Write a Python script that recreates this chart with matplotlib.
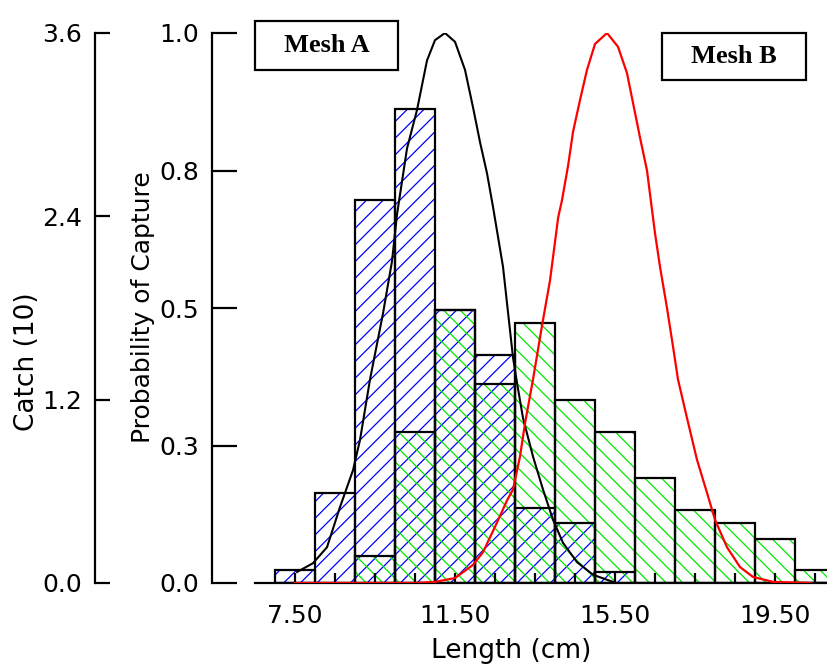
import matplotlib
matplotlib.use("Agg")
import matplotlib.pyplot as plt
from matplotlib.patches import Rectangle
import numpy as np

# length classes (cm), one bar per class
lengths = [7.5, 8.5, 9.5, 10.5, 11.5, 12.5, 13.5, 14.5, 15.5, 16.5, 17.5, 18.5, 19.5, 20.5]
# catch in units of 10 fish
catch_a = [0.085, 0.59, 2.51, 3.10, 1.79, 1.49, 0.49, 0.39, 0.07, 0, 0, 0, 0, 0]
catch_b = [0, 0, 0.18, 0.99, 1.79, 1.30, 1.70, 1.20, 0.99, 0.69, 0.48, 0.39, 0.29, 0.085]

# selectivity curves
sel_a_x = [7.55, 7.95, 8.3, 8.625, 8.95, 9.125, 9.375, 9.7, 9.925, 10.05, 10.3, 10.55, 10.8,
           11.0, 11.25, 11.5, 11.75, 11.95, 12.13, 12.3, 12.45, 12.7, 12.95, 13.05,
           13.2, 13.45, 13.7, 13.95, 14.2, 14.55, 14.95, 15.45]
sel_a_y = [0.02, 0.036, 0.065, 0.138, 0.205, 0.26, 0.37, 0.49, 0.585, 0.67, 0.79, 0.86, 0.95,
           0.987, 1.0, 0.984, 0.933, 0.865, 0.80, 0.745, 0.684, 0.575, 0.41, 0.364,
           0.30, 0.23, 0.17, 0.115, 0.073, 0.038, 0.015, 0.002]
sel_b_x = [7.5, 10.5, 11.0, 11.5, 11.95, 12.2, 12.55, 12.8, 12.95, 13.125, 13.25, 13.45,
           13.68, 13.875, 14.08, 14.175, 14.33, 14.45, 14.625, 14.8, 15.0, 15.3, 15.575,
           15.8, 15.95, 16.125, 16.3, 16.5, 16.625, 16.8, 16.95, 17.075, 17.3, 17.55,
           17.8, 18.0, 18.3, 18.625, 18.95, 19.45, 20.4]
sel_b_y = [0, 0, 0.002, 0.009, 0.033, 0.056, 0.11, 0.15, 0.17, 0.23, 0.29, 0.37,
           0.47, 0.55, 0.665, 0.696, 0.76, 0.82, 0.878, 0.933, 0.98, 1.0, 0.975,
           0.927, 0.873, 0.81, 0.75, 0.636, 0.575, 0.50, 0.43, 0.37, 0.30, 0.224,
           0.164, 0.115, 0.065, 0.029, 0.011, 0.002, 0]

catch_ticks = [0.0, 1.2, 2.4, 3.6]
prob_ticks = [0.0, 0.25, 0.5, 0.75, 1.0]
x_labels = {7.5: "7.50", 11.5: "11.50", 15.5: "15.50", 19.5: "19.50"}

plt.rcParams['font.family'] = 'DejaVu Sans'
plt.rcParams['hatch.linewidth'] = 0.9

fig = plt.figure(figsize=(8.27, 6.69), dpi=100)
ax = fig.add_axes([255 / 827, 86 / 669, 572 / 827, 550 / 669])

# bars: hatch layer then black outline
ax.bar(lengths, catch_a, width=1.0, color='none', edgecolor='#0000ff', hatch='//', linewidth=0)
ax.bar(lengths, catch_b, width=1.0, color='none', edgecolor='#00e600', hatch='\\\\', linewidth=0)
ax.bar(lengths, catch_a, width=1.0, color='none', edgecolor='black', linewidth=1.6)
ax.bar(lengths, catch_b, width=1.0, color='none', edgecolor='black', linewidth=1.6)

ax.set_xlim(6.5, 20.8)
ax.set_ylim(0, 3.6)

# catch axis far left
ax.spines['top'].set_visible(False)
ax.spines['right'].set_visible(False)
ax.spines['left'].set_position(('outward', 160 * 0.72))
ax.spines['left'].set_linewidth(1.6)
ax.spines['bottom'].set_linewidth(1.6)
ax.set_yticks(catch_ticks)
ax.set_yticklabels(["%.1f" % v for v in catch_ticks])
ax.tick_params(axis='y', direction='in', length=11, width=1.6, pad=9, labelsize=18)

ax.set_xticks(lengths)
ax.set_xticklabels([x_labels.get(v, "") for v in lengths])
ax.tick_params(axis='x', direction='in', length=7, width=1.6, pad=15, labelsize=18)

# probability axis
ax2 = ax.twinx()
ax2.plot(sel_a_x, sel_a_y, color='black', linewidth=1.5)
ax2.plot(sel_b_x, sel_b_y, color='red', linewidth=1.6)
ax2.set_ylim(0, 1.0)
ax2.spines['top'].set_visible(False)
ax2.spines['right'].set_visible(False)
ax2.spines['bottom'].set_visible(False)
ax2.spines['left'].set_visible(True)
ax2.spines['left'].set_position(('outward', 43 * 0.72))
ax2.spines['left'].set_linewidth(1.6)
ax2.yaxis.set_ticks_position('left')
ax2.set_yticks(prob_ticks)
ax2.set_yticklabels(["%.1f" % (np.round(v + 1e-9, 1)) for v in prob_ticks])
ax2.tick_params(axis='y', direction='in', length=18, width=1.6, pad=9, labelsize=18)

fig.text(27 / 827, 1 - 362 / 669, "Catch (10)", rotation=90, ha='center', va='center', fontsize=19)
fig.text(143 / 827, 1 - 307 / 669, "Probability of Capture", rotation=90, ha='center', va='center', fontsize=18)
fig.text(511 / 827, 1 - 651 / 669, "Length (cm)", ha='center', va='center', fontsize=19)

# mesh boxes
for (x0, y0, x1, y1, label) in [(255, 21, 398, 70, "Mesh A"), (662, 33, 806, 80, "Mesh B")]:
    fig.add_artist(Rectangle((x0 / 827, 1 - y1 / 669), (x1 - x0) / 827, (y1 - y0) / 669,
                             transform=fig.transFigure, facecolor='white',
                             edgecolor='black', linewidth=1.6, zorder=5))
    fig.text((x0 + x1) / 2 / 827, 1 - (y0 + y1) / 2 / 669, label, ha='center', va='center',
             fontsize=19, family='Liberation Serif', weight='bold', zorder=6)

fig.savefig("out.png", dpi=100, facecolor='white')
